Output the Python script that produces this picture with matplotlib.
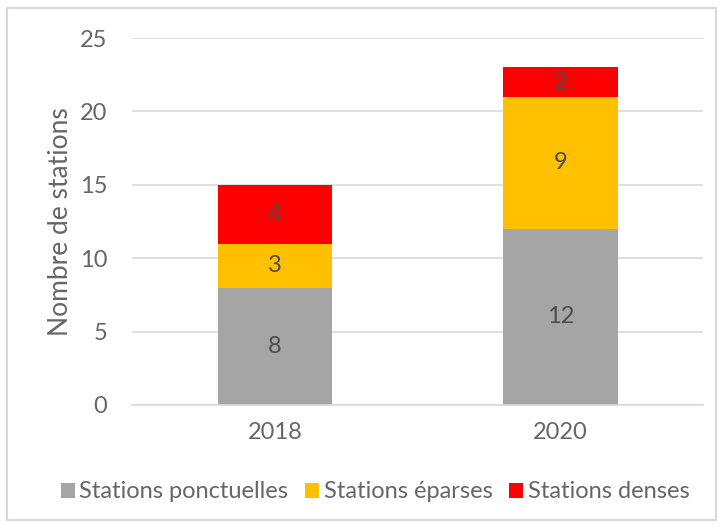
import numpy as np
import matplotlib.pyplot as plt
from matplotlib.patches import Rectangle

years = ['2018', '2020']
ponctuelles = [8, 12]
eparses = [3, 9]
denses = [4, 2]
series_names = ['Stations ponctuelles', 'Stations éparses', 'Stations denses']
colors = ['#a5a5a5', '#ffc000', '#ff0000']
yticks = [0, 5, 10, 15, 20, 25]

plt.rcParams['font.family'] = ['Lato', 'DejaVu Sans']
txt = '#666666'

fig = plt.figure(figsize=(7.23, 5.25), dpi=100)
ax = fig.add_axes([0.1826, 0.2286, 0.7904, 0.699])

x = np.arange(len(years))
bottom = np.zeros(len(years))
for vals, name, c in zip([ponctuelles, eparses, denses], series_names, colors):
    ax.bar(x, vals, 0.4, bottom=bottom, color=c, label=name, zorder=2)
    for xi, b, v in zip(x, bottom, vals):
        ax.text(xi, b + v / 2, str(v), ha='center', va='center', fontsize=17,
                color='#4d4d4d', zorder=5)
    bottom = bottom + np.array(vals)

ax.set_xlim(-0.5, 1.5)
ax.set_ylim(0, 25)
ax.set_yticks(yticks)
ax.set_xticks(x)
ax.set_xticklabels(years)
ax.grid(axis='y', color='#d9d9d9', linewidth=1.2, zorder=0)
for s in ['top', 'right', 'left']:
    ax.spines[s].set_visible(False)
ax.spines['bottom'].set_color('#d9d9d9')
ax.spines['bottom'].set_linewidth(1.2)
ax.tick_params(axis='both', length=0, labelsize=17, labelcolor=txt)
ax.tick_params(axis='y', pad=18)
ax.tick_params(axis='x', pad=12)
ax.set_ylabel('Nombre de stations', fontsize=19, color=txt, labelpad=5)

fig.legend(loc='center', bbox_to_anchor=(0.519, 0.063), ncol=3, frameon=False,
           fontsize=17, labelcolor=txt, handlelength=0.6, handleheight=0.6,
           handletextpad=0.2, columnspacing=0.7)

fig.patches.append(Rectangle((0.01, 0.01), 0.98, 0.975, transform=fig.transFigure,
                             fill=False, edgecolor='#d9d9d9', linewidth=1.5))

fig.savefig('out.png', dpi=100)
